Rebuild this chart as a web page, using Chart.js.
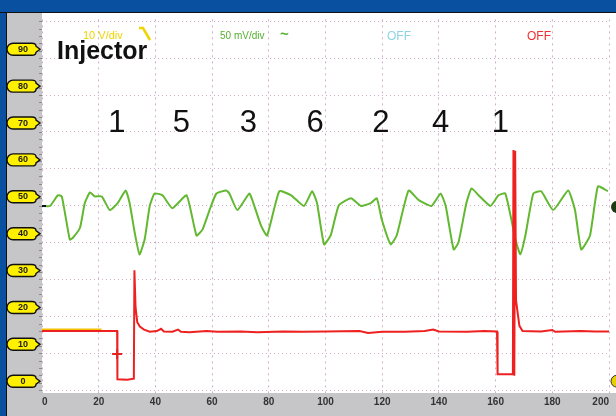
<!DOCTYPE html>
<html>
<head>
<meta charset="utf-8">
<script src="https://cdn.jsdelivr.net/npm/chart.js@4.4.1/dist/chart.umd.min.js"></script>
<style>
  html, body { margin: 0; padding: 0; background: #fff; }
  #wrap { width: 616px; height: 416px; }
</style>
</head>
<body>
<div id="wrap"><canvas id="chart" width="616" height="416"></canvas></div>
<script>
// scope axes
const xTicks = [0, 20, 40, 60, 80, 100, 120, 140, 160, 180, 200];
const yTicks = [0, 10, 20, 30, 40, 50, 60, 70, 80, 90];
const yDivs = [-2.4, 7.6, 17.6, 27.6, 37.6, 47.6, 57.6, 67.6, 77.6, 87.6, 97.6];
const yMin = -3.2, yMax = 98.1;

// channel B (pressure, green)
const greenX = [0, 2.8, 5.6, 7.0, 9.8, 10.9, 13.4, 15.1, 16.9, 18.6, 21.1, 23.9, 26.7, 29.5, 30.9, 32.7, 34.4, 36.2, 38.0, 39.7,
  42.5, 46.0, 51.0, 54.5, 56.6, 59.1, 61.5, 65.0, 66.1, 68.9, 73.1, 74.2, 77.3, 79.4, 83.7, 87.9, 92.4, 95.3, 97.0, 99.5,
  101.9, 104.7, 109.0, 112.5, 116.0, 118.1, 119.9, 123.0, 125.1, 129.3, 132.9, 137.4, 140.6, 142.4, 145.2, 146.9, 149.7, 151.5, 154.0, 158.2,
  161.0, 163.4, 165.6, 167.0, 168.7, 170.5, 173.3, 176.1, 180.3, 185.6, 188.0, 190.2, 193.3, 196.1, 199.6];
const greenY = [47.5, 47.5, 50.4, 50.1, 38.4, 38.9, 41.6, 48.3, 51.2, 50.1, 50.1, 46.4, 48.3, 51.7, 48.3, 40.3, 34.4, 38.4, 47.5, 50.9,
  50.4, 46.9, 50.4, 39.5, 41.1, 46.4, 50.9, 51.7, 50.9, 46.4, 50.9, 49.1, 42.1, 39.5, 51.5, 50.4, 47.5, 51.5, 48.3, 37.1,
  39.7, 47.7, 49.6, 47.5, 48.3, 49.6, 43.7, 37.1, 39.5, 51.7, 49.1, 47.5, 50.9, 47.5, 35.7, 37.6, 48.3, 52.3, 50.4, 47.5,
  50.4, 50.9, 43.7, 38.4, 34.4, 39.5, 50.9, 51.5, 46.4, 51.7, 46.4, 35.7, 39.5, 52.8, 51.5];

// channel C (injector, red)
const redX = [0, 20, 26.5, 26.6, 30, 32.4, 32.6, 33.0, 33.6, 34.5, 36, 38, 40.5, 42, 43, 46, 48, 49, 52, 58,
  62, 70, 76, 85, 92, 100, 112, 115, 120, 128, 135, 138, 140, 150, 156, 160.5, 160.7, 166.1, 166.3, 166.6,
  166.9, 167.2, 167.7, 168.4, 169.5, 176, 180, 181, 190, 195, 200];
const redY = [13.6, 13.6, 13.6, 0.5, 0.4, 0.7, 30.1, 20, 16, 14.8, 14.0, 13.4, 13.6, 14.2, 13.5, 13.4, 14.0, 13.4, 13.3, 13.6,
  13.4, 13.5, 13.3, 13.5, 13.4, 13.5, 13.6, 13.1, 13.4, 13.4, 13.6, 14.0, 13.5, 13.4, 13.6, 13.5, 1.9, 1.9, 62.7, 1.5,
  62.5, 22, 19, 15, 13.6, 13.5, 13.9, 13.4, 13.6, 13.5, 13.5];

// channel A (yellow, mostly hidden)
const yellowX = [0, 21];
const yellowY = [14.1, 14.1];

const triggerX = [26.5];
const triggerY = [7.4];

const firingOrder = ['1', '5', '3', '6', '2', '4', '1'];
const firingX = [26.4, 49.2, 72.8, 96.3, 119.5, 140.6, 161.7];

function pts(xs, ys) {
  return xs.map((x, i) => ({ x: x, y: ys[i] }));
}

const dotGrid = { color: 'rgba(205,165,195,0.9)', lineWidth: 1, drawTicks: false };

const scopeChrome = {
  id: 'scopeChrome',
  beforeDraw(chart) {
    const { ctx, chartArea: a, scales } = chart;
    ctx.save();
    ctx.fillStyle = '#fff';
    ctx.fillRect(0, 0, 616, 416);
    ctx.fillStyle = '#c6c6c8';
    ctx.fillRect(6, 12, a.left - 6, 416 - 12);
    ctx.fillRect(6, a.bottom, 616 - 6, 416 - a.bottom);
    ctx.fillStyle = '#0a50a0';
    ctx.fillRect(0, 0, 616, 12);
    ctx.fillRect(0, 0, 6, 416);
    ctx.fillStyle = '#111';
    ctx.fillRect(0, 12, 616, 1);
    ctx.fillRect(6, 12, 1, 404);

    // little ruler ticks on the left panel edge
    ctx.fillStyle = '#8a8a8a';
    const step = (scales.y.getPixelForValue(yDivs[0]) - scales.y.getPixelForValue(yDivs[1])) / 5;
    for (let py = scales.y.getPixelForValue(yDivs[0]); py > a.top; py -= step) {
      ctx.fillRect(a.left - 3, Math.round(py), 3, 1);
    }

    // yellow level pills
    yTicks.forEach(v => {
      const y = scales.y.getPixelForValue(v);
      ctx.beginPath();
      ctx.moveTo(13, y - 6);
      ctx.lineTo(32, y - 6);
      ctx.quadraticCurveTo(36, y - 6, 36, y - 3);
      ctx.lineTo(40, y);
      ctx.lineTo(36, y + 3);
      ctx.quadraticCurveTo(36, y + 6, 32, y + 6);
      ctx.lineTo(13, y + 6);
      ctx.arc(13, y, 6, Math.PI / 2, Math.PI * 1.5);
      ctx.closePath();
      ctx.fillStyle = '#fff000';
      ctx.fill();
      ctx.lineWidth = 1.4;
      ctx.strokeStyle = '#111';
      ctx.stroke();
    });
    ctx.restore();
  },
  afterDraw(chart) {
    const { ctx, chartArea: a, scales } = chart;
    ctx.save();
    ctx.textBaseline = 'alphabetic';

    ctx.fillStyle = '#111';
    ctx.font = 'bold 25px "Liberation Sans", Arial, sans-serif';
    ctx.textAlign = 'left';
    ctx.fillText('Injector', 57, 59);

    ctx.font = '31px "Liberation Sans", Arial, sans-serif';
    ctx.textAlign = 'center';
    firingOrder.forEach((c, i) => {
      ctx.fillText(c, scales.x.getPixelForValue(firingX[i]), 132);
    });

    // channel header
    ctx.font = '11px "Liberation Sans", Arial, sans-serif';
    ctx.textAlign = 'left';
    ctx.fillStyle = '#eed400';
    ctx.fillText('10 V/div', 83, 39);
    ctx.strokeStyle = '#eed400';
    ctx.lineWidth = 2.5;
    ctx.beginPath();
    ctx.moveTo(139, 28);
    ctx.lineTo(143, 28);
    ctx.lineTo(150, 40);
    ctx.stroke();

    ctx.font = '10px "Liberation Sans", Arial, sans-serif';
    ctx.fillStyle = '#55b030';
    ctx.fillText('50 mV/div', 220, 39);
    ctx.font = 'bold 15px "Liberation Sans", Arial, sans-serif';
    ctx.fillText('~', 280, 39);

    ctx.font = '12px "Liberation Sans", Arial, sans-serif';
    ctx.fillStyle = '#8fd3e2';
    ctx.fillText('OFF', 387, 40);
    ctx.fillStyle = '#f03030';
    ctx.fillText('OFF', 527, 40);

    // side markers
    const gy = scales.y.getPixelForValue(greenY[0]);
    ctx.fillStyle = '#111';
    ctx.fillRect(a.left, gy - 1, 4, 2);
    ctx.fillStyle = '#1e3a14';
    ctx.beginPath();
    ctx.arc(617, gy + 1, 6, 0, Math.PI * 2);
    ctx.fill();
    const zy = scales.y.getPixelForValue(0);
    ctx.fillStyle = '#e8d000';
    ctx.strokeStyle = '#333';
    ctx.lineWidth = 1;
    ctx.beginPath();
    ctx.arc(617, zy, 6, 0, Math.PI * 2);
    ctx.fill();
    ctx.stroke();
    ctx.restore();
  }
};

const ctx = document.getElementById('chart').getContext('2d');
const chart = new Chart(ctx, {
  type: 'line',
  data: {
    datasets: [
      {
        label: 'Trigger',
        data: pts(triggerX, triggerY),
        showLine: false,
        pointStyle: 'cross',
        pointRadius: 5,
        pointBorderWidth: 2,
        pointBorderColor: '#e82020',
        order: 0
      },
      {
        label: 'Injector',
        data: pts(redX, redY),
        borderColor: '#ee2020',
        borderWidth: 2,
        pointRadius: 0,
        tension: 0,
        order: 1
      },
      {
        label: 'Pressure',
        data: pts(greenX, greenY),
        borderColor: '#62b830',
        borderWidth: 2,
        pointRadius: 0,
        tension: 0.15,
        order: 2
      },
      {
        label: 'Channel A',
        data: pts(yellowX, yellowY),
        borderColor: '#f2c200',
        borderWidth: 1.5,
        pointRadius: 0,
        order: 3
      }
    ]
  },
  options: {
    responsive: false,
    animation: false,
    events: [],
    layout: { padding: { left: 0, top: 13, right: 5, bottom: 0 } },
    plugins: {
      legend: { display: false },
      tooltip: { enabled: false }
    },
    scales: {
      x: {
        type: 'linear',
        min: 0,
        max: 200,
        afterBuildTicks: axis => { axis.ticks = xTicks.map(v => ({ value: v })); },
        afterFit: axis => { axis.height = 23; },
        grid: dotGrid,
        border: { display: false, dash: [2, 4] },
        ticks: {
          align: 'inner',
          padding: 3,
          maxRotation: 0,
          color: '#333',
          font: { family: '"Liberation Sans", Arial, sans-serif', size: 10, weight: 'bold' }
        }
      },
      y: {
        min: yMin,
        max: yMax,
        afterBuildTicks: axis => { axis.ticks = yTicks.map(v => ({ value: v })); },
        afterFit: axis => { axis.width = 42; },
        grid: { display: false, drawTicks: false },
        border: { display: false },
        ticks: {
          crossAlign: 'center',
          padding: 14,
          color: '#222',
          font: { family: '"Liberation Sans", Arial, sans-serif', size: 9, weight: 'bold' }
        }
      },
      yg: {
        position: 'right',
        min: yMin,
        max: yMax,
        afterBuildTicks: axis => { axis.ticks = yDivs.map(v => ({ value: v })); },
        afterFit: axis => { axis.width = 0; },
        grid: dotGrid,
        border: { display: false, dash: [1, 3] },
        ticks: { display: false }
      }
    }
  },
  plugins: [scopeChrome]
});
</script>
</body>
</html>
